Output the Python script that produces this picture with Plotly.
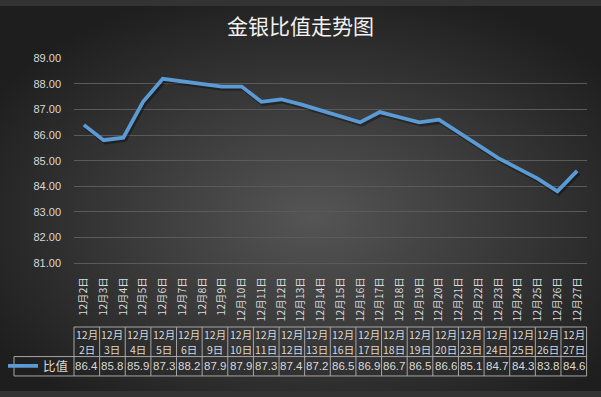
import base64
import plotly.graph_objects as go

# ---------------- data ----------------
dates = ['2019-12-02', '2019-12-03', '2019-12-04', '2019-12-05', '2019-12-06',
         '2019-12-09', '2019-12-10', '2019-12-11', '2019-12-12', '2019-12-13',
         '2019-12-16', '2019-12-17', '2019-12-18', '2019-12-19', '2019-12-20',
         '2019-12-23', '2019-12-24', '2019-12-25', '2019-12-26', '2019-12-27']
ratio = [86.4, 85.8, 85.9, 87.3, 88.2,
         87.9, 87.9, 87.3, 87.4, 87.2,
         86.5, 86.9, 86.7, 86.5, 86.6,
         85.1, 84.7, 84.3, 83.8, 84.6]
table_header_month = ['12月'] * 20
table_header_day = ['2日', '3日', '4日', '5日', '6日', '9日', '10日', '11日', '12日', '13日',
                    '16日', '17日', '18日', '19日', '20日', '23日', '24日', '25日', '26日', '27日']
axis_tick_dates = ['2019-12-02', '2019-12-03', '2019-12-04', '2019-12-05', '2019-12-06',
                   '2019-12-07', '2019-12-08', '2019-12-09', '2019-12-10', '2019-12-11',
                   '2019-12-12', '2019-12-13', '2019-12-14', '2019-12-15', '2019-12-16',
                   '2019-12-17', '2019-12-18', '2019-12-19', '2019-12-20', '2019-12-21',
                   '2019-12-22', '2019-12-23', '2019-12-24', '2019-12-25', '2019-12-26',
                   '2019-12-27']
axis_tick_text = ['12月2日', '12月3日', '12月4日', '12月5日', '12月6日', '12月7日', '12月8日',
                  '12月9日', '12月10日', '12月11日', '12月12日', '12月13日', '12月14日',
                  '12月15日', '12月16日', '12月17日', '12月18日', '12月19日', '12月20日',
                  '12月21日', '12月22日', '12月23日', '12月24日', '12月25日', '12月26日',
                  '12月27日']
y_ticks = [81, 82, 83, 84, 85, 86, 87, 88, 89]
series_name = '比值'
title_text = '金银比值走势图'

# ---------------- style ----------------
W, H = 601, 397
LINE_COLOR = '#5b9bd5'
TEXT_COLOR = '#d9d9d9'
GRID_COLOR = '#5a5a5a'
BORDER_COLOR = '#a6a6a6'
FONT = 'Liberation Sans, Noto Sans CJK SC, sans-serif'
CJK = 'Noto Sans CJK SC, sans-serif'
X_RANGE = ['2019-12-01 12:00', '2019-12-27 12:00']
Y_RANGE = [81, 89]

svg = ('<svg xmlns="http://www.w3.org/2000/svg" width="601" height="397">'
       '<defs><radialGradient id="g" cx="52%" cy="55%" r="62%">'
       '<stop offset="0" stop-color="#555555"/>'
       '<stop offset="1" stop-color="#1e1e1e"/>'
       '</radialGradient></defs>'
       '<rect width="601" height="397" fill="url(#g)"/></svg>')
bg_uri = 'data:image/svg+xml;base64,' + base64.b64encode(svg.encode()).decode()


def px_x(p):
    return p / W


def px_y(p):
    return 1 - p / H


PLOT_L, PLOT_R, PLOT_T, PLOT_B = 74, 587, 54, 265
SH_DX, SH_DY = 1.5, 2.0   # drop-shadow offset in px

fig = go.Figure()

# invisible carrier so the visible axis pair (grid, labels) is drawn
fig.add_trace(go.Scatter(
    x=dates, y=ratio, mode='lines', xaxis='x', yaxis='y',
    line=dict(color='rgba(0,0,0,0)', width=0), opacity=0,
    showlegend=False, hoverinfo='skip',
))
# soft drop shadow of the line (same data on an offset, hidden axis pair)
fig.add_trace(go.Scatter(
    x=dates, y=ratio, mode='lines', xaxis='x2', yaxis='y2',
    line=dict(color='rgba(0,0,0,0.35)', width=4.5),
    showlegend=False, hoverinfo='skip',
))
# main line
fig.add_trace(go.Scatter(
    x=dates, y=ratio, mode='lines', name=series_name, xaxis='x3', yaxis='y3',
    line=dict(color=LINE_COLOR, width=3.75),
    showlegend=True,
))

# ---------------- data table (layout geometry) ----------------
TBL_LEFT = 14
COL0 = 74
COL_W = 25.63
Y_TOP, Y_MID, Y_BOT = 331, 361.5, 381.5
n = len(ratio)
x_right = COL0 + n * COL_W

shapes = []
line_style = dict(color=BORDER_COLOR, width=1)
shapes.append(dict(type='line', xref='paper', yref='paper',
                   x0=px_x(COL0), x1=px_x(x_right), y0=px_y(Y_TOP), y1=px_y(Y_TOP), line=line_style))
for yy in (Y_MID, Y_BOT):
    shapes.append(dict(type='line', xref='paper', yref='paper',
                       x0=px_x(TBL_LEFT), x1=px_x(x_right), y0=px_y(yy), y1=px_y(yy), line=line_style))
shapes.append(dict(type='line', xref='paper', yref='paper',
                   x0=px_x(TBL_LEFT), x1=px_x(TBL_LEFT), y0=px_y(Y_MID), y1=px_y(Y_BOT), line=line_style))
for i in range(n + 1):
    xx = COL0 + i * COL_W
    shapes.append(dict(type='line', xref='paper', yref='paper',
                       x0=px_x(xx), x1=px_x(xx), y0=px_y(Y_TOP), y1=px_y(Y_BOT), line=line_style))

annotations = []
for i, (mon, day, val) in enumerate(zip(table_header_month, table_header_day, ratio)):
    cx = COL0 + (i + 0.5) * COL_W
    annotations.append(dict(xref='paper', yref='paper', x=px_x(cx), y=px_y(339),
                            text=mon, showarrow=False, xanchor='center', yanchor='middle',
                            font=dict(family=CJK, size=10.5, color=TEXT_COLOR)))
    annotations.append(dict(xref='paper', yref='paper', x=px_x(cx), y=px_y(354.5),
                            text=day, showarrow=False, xanchor='center', yanchor='middle',
                            font=dict(family=CJK, size=10.5, color=TEXT_COLOR)))
    annotations.append(dict(xref='paper', yref='paper', x=px_x(cx), y=px_y((Y_MID + Y_BOT) / 2),
                            text='%.1f' % val, showarrow=False, xanchor='center', yanchor='middle',
                            font=dict(family=FONT, size=11.5, color=TEXT_COLOR)))

hidden = dict(visible=False, showgrid=False, zeroline=False, fixedrange=True)

fig.update_layout(
    width=W, height=H,
    margin=dict(l=0, r=0, t=0, b=0),
    paper_bgcolor='#333333',
    plot_bgcolor='rgba(0,0,0,0)',
    images=[dict(source=bg_uri, xref='paper', yref='paper', x=0, y=1,
                 sizex=1, sizey=1, sizing='stretch', layer='below',
                 xanchor='left', yanchor='top')],
    title=dict(text=title_text, x=0.5, xanchor='center', xref='paper',
               y=px_y(21), yref='paper', yanchor='middle',
               font=dict(family=CJK, size=21, color='#f2f2f2')),
    legend=dict(x=px_x(3), y=px_y(371.5), xanchor='left', yanchor='middle',
                bgcolor='rgba(0,0,0,0)', borderwidth=0,
                font=dict(family=CJK, size=12.5, color=TEXT_COLOR),
                itemwidth=30),
    shapes=shapes,
    annotations=annotations,
    xaxis=dict(
        domain=[px_x(PLOT_L), px_x(PLOT_R)],
        type='date', range=X_RANGE,
        tickmode='array', tickvals=axis_tick_dates, ticktext=axis_tick_text,
        tickangle=-90,
        tickfont=dict(family=CJK, size=10.5, color=TEXT_COLOR),
        showgrid=False, zeroline=False,
        showline=True, linecolor=GRID_COLOR, linewidth=1,
        ticks='', ticklabelstandoff=9,
        fixedrange=True,
    ),
    yaxis=dict(
        domain=[px_y(PLOT_B), px_y(PLOT_T)],
        range=Y_RANGE,
        tickmode='array', tickvals=y_ticks,
        tickformat='.2f',
        tickfont=dict(family=FONT, size=11, color=TEXT_COLOR),
        showgrid=True, gridcolor=GRID_COLOR, gridwidth=1,
        zeroline=False, showline=False,
        ticks='', ticklabelstandoff=12,
        fixedrange=True,
    ),
    xaxis2=dict(domain=[px_x(PLOT_L + SH_DX), px_x(PLOT_R + SH_DX)], type='date',
                range=X_RANGE, anchor='y2', **hidden),
    yaxis2=dict(domain=[px_y(PLOT_B + SH_DY), px_y(PLOT_T + SH_DY)], range=Y_RANGE,
                anchor='x2', **hidden),
    xaxis3=dict(domain=[px_x(PLOT_L), px_x(PLOT_R)], type='date',
                range=X_RANGE, anchor='y3', **hidden),
    yaxis3=dict(domain=[px_y(PLOT_B), px_y(PLOT_T)], range=Y_RANGE,
                anchor='x3', **hidden),
)

fig.write_html('out.html',
               config={'displayModeBar': False},
               post_script="document.body.style.margin='0';document.body.style.overflow='hidden';")
